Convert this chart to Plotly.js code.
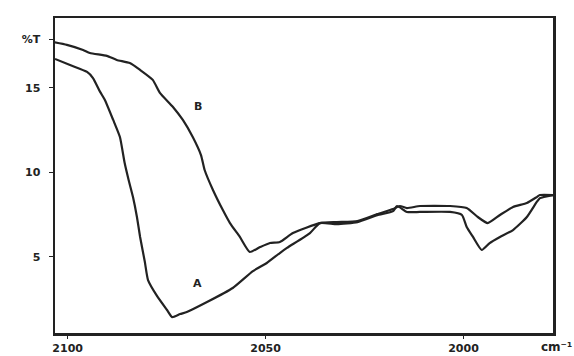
<!DOCTYPE html>
<html>
<head>
<meta charset="utf-8">
<script src="https://cdn.plot.ly/plotly-3.0.1.min.js"></script>
<style>html,body{margin:0;padding:0;background:#fff;}#chart{width:574px;height:356px;}</style>
</head>
<body>
<div id="chart"></div>
<script>
// Wavenumber (cm^-1) and %T readings for spectrum A
const waveA = [2103.2, 2099.4, 2095.1, 2093.6, 2091.8, 2090.6, 2088.5, 2086.8, 2085.6, 2084.6, 2083.5, 2082.5, 2081.7, 2080.5, 2079.7, 2077.4, 2074.9, 2073.6, 2071.6, 2069.9, 2064.8, 2058.3, 2053.2, 2049.7, 2046.4, 2044.6, 2038.8, 2036.3, 2032.0, 2026.8, 2021.8, 2017.8, 2016.8, 2014.3, 2011.0, 2003.4, 2000.4, 1999.2, 1997.6, 1995.4, 1993.4, 1990.8, 1987.5, 1984.0, 1981.5, 1980.7, 1977.4];
const transA = [16.70, 16.34, 15.93, 15.57, 14.75, 14.27, 13.09, 12.08, 10.54, 9.54, 8.53, 7.35, 6.17, 4.69, 3.62, 2.67, 1.85, 1.43, 1.61, 1.73, 2.32, 3.15, 4.15, 4.63, 5.22, 5.52, 6.40, 6.99, 6.93, 7.05, 7.46, 7.70, 8.00, 7.65, 7.65, 7.65, 7.47, 6.76, 6.17, 5.40, 5.81, 6.17, 6.58, 7.35, 8.24, 8.47, 8.65];
// Wavenumber (cm^-1) and %T readings for spectrum B
const waveB = [2103.7, 2100.2, 2096.1, 2094.4, 2090.1, 2087.6, 2084.3, 2081.7, 2078.5, 2076.7, 2073.4, 2070.9, 2068.4, 2066.3, 2065.4, 2063.3, 2060.8, 2059.0, 2056.5, 2054.0, 2051.4, 2048.9, 2046.4, 2043.1, 2036.3, 2032.0, 2026.8, 2021.8, 2017.8, 2016.1, 2014.3, 2011.0, 2003.4, 1999.2, 1996.4, 1993.9, 1990.8, 1987.5, 1984.0, 1981.5, 1980.7, 1977.4];
const transB = [17.70, 17.53, 17.23, 17.05, 16.88, 16.64, 16.46, 16.05, 15.46, 14.69, 13.86, 13.09, 12.08, 11.00, 10.13, 8.95, 7.76, 6.99, 6.17, 5.28, 5.57, 5.81, 5.87, 6.40, 6.99, 7.05, 7.11, 7.52, 7.82, 8.00, 7.88, 8.00, 8.00, 7.88, 7.35, 6.99, 7.47, 7.94, 8.18, 8.53, 8.65, 8.65];
// Axis ticks
const xTicks = [2100, 2050, 2000];
const xTickText = ['2100', '2050', '2000'];
const yTicks = [5, 10, 15, 17.86];
const yTickText = ['5', '10', '15', '%T'];
// Curve labels
const labelNames = ['A', 'B'];
const labelX = [2067.3, 2067.0];
const labelY = [3.44, 13.86];

const lineStyle = {color: '#222', width: 2.2, shape: 'spline', smoothing: 0.5};
const traces = [
  {x: waveA, y: transA, mode: 'lines', line: lineStyle, name: 'A', hoverinfo: 'skip'},
  {x: waveB, y: transB, mode: 'lines', line: lineStyle, name: 'B', hoverinfo: 'skip'}
];

const annotations = labelNames.map((t, i) => ({
  x: labelX[i], y: labelY[i], xref: 'x', yref: 'y', text: t, showarrow: false,
  font: {family: 'DejaVu Sans', size: 11, color: '#222', weight: 'bold'}
}));
annotations.push({
  x: 1.008, y: -0.045, xref: 'paper', yref: 'paper', text: 'cm⁻¹',
  showarrow: false, xanchor: 'center', yanchor: 'middle',
  font: {family: 'DejaVu Sans', size: 12, color: '#222', weight: 'bold'}
});

const layout = {
  width: 574, height: 356,
  margin: {l: 55, r: 21, t: 18, b: 23},
  paper_bgcolor: '#fff', plot_bgcolor: '#fff',
  showlegend: false,
  xaxis: {
    range: [2103.2, 1977.4], tickvals: xTicks, ticktext: xTickText,
    showgrid: false, zeroline: false, showline: true, mirror: true,
    linecolor: '#222', linewidth: 2.5, ticks: 'outside', ticklen: 3, tickcolor: '#222',
    tickfont: {family: 'DejaVu Sans', size: 11, color: '#222', weight: 'bold'}
  },
  yaxis: {
    range: [0.49, 19.12], tickvals: yTicks, ticktext: yTickText,
    showgrid: false, zeroline: false, showline: true, mirror: true,
    linecolor: '#222', linewidth: 2.5, ticks: 'outside', ticklen: 4, tickcolor: '#222',
    ticklabelstandoff: 6,
    tickfont: {family: 'DejaVu Sans', size: 11, color: '#222', weight: 'bold'}
  },
  annotations: annotations
};

Plotly.newPlot('chart', traces, layout, {staticPlot: true, displayModeBar: false});
</script>
</body>
</html>
